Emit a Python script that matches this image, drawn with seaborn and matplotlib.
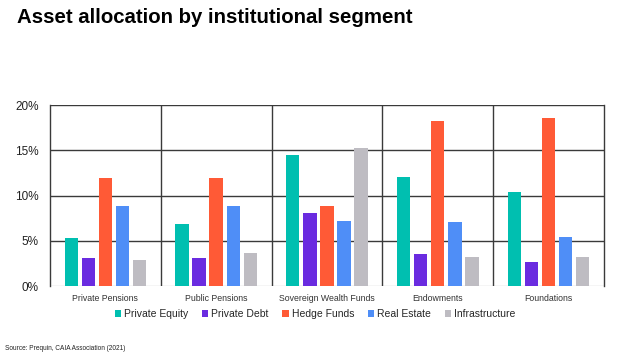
import pandas as pd
import matplotlib.pyplot as plt
import seaborn as sns

# --- data ---
segments = ['Private Pensions', 'Public Pensions', 'Sovereign Wealth Funds', 'Endowments', 'Foundations']
asset_classes = ['Private Equity', 'Private Debt', 'Hedge Funds', 'Real Estate', 'Infrastructure']

private_equity = [5.3, 6.9, 14.5, 12.1, 10.4]
private_debt = [3.1, 3.1, 8.1, 3.5, 2.7]
hedge_funds = [11.9, 11.9, 8.8, 18.2, 18.6]
real_estate = [8.8, 8.8, 7.2, 7.1, 5.4]
infrastructure = [2.9, 3.6, 15.3, 3.2, 3.2]

y_ticks = [0, 5, 10, 15, 20]
y_tick_labels = ['0%', '5%', '10%', '15%', '20%']

colors = ['#00BFB0', '#6A2BE0', '#FF5A36', '#4F8EF7', '#BEBCC2']

# long format for seaborn
series = [private_equity, private_debt, hedge_funds, real_estate, infrastructure]
rows = []
for asset, vals in zip(asset_classes, series):
    for seg, v in zip(segments, vals):
        rows.append({'Segment': seg, 'Asset': asset, 'Share': v})
df = pd.DataFrame(rows)

sns.set_style('white')
plt.rcParams['font.family'] = ['Liberation Sans', 'DejaVu Sans']

fig = plt.figure(figsize=(6.24, 3.54), dpi=100)
ax = fig.add_axes([0.080, 0.192, 0.888, 0.511])

sns.barplot(data=df, x='Segment', y='Share', hue='Asset', order=segments,
            hue_order=asset_classes, palette=colors, saturation=1, width=0.77, gap=0.22,
            linewidth=0, ax=ax, errorbar=None, legend=True, zorder=3)

ax.set_xlim(-0.5, len(segments) - 0.5)
ax.set_ylim(0, 20)
ax.set_yticks(y_ticks)
ax.set_yticklabels(y_tick_labels, fontsize=8.5, color='#222222')
ax.tick_params(axis='x', labelsize=6.3, colors='#333333', length=0, pad=6)
ax.tick_params(axis='y', length=0, pad=8)
ax.set_xlabel('')
ax.set_ylabel('')

# grid: dark lines for 5-20 %, light for baseline, vertical dividers
for t in y_ticks[1:]:
    ax.axhline(t, color='#3a3a3a', lw=1.0, zorder=1)
ax.axhline(0, color='#d0d0d0', lw=1.0, zorder=1)
for i in range(len(segments) - 1):
    ax.axvline(i + 0.5, color='#3a3a3a', lw=1.0, zorder=1)

for s in ['top', 'bottom']:
    ax.spines[s].set_visible(False)
for s in ['left', 'right']:
    ax.spines[s].set_color('#3a3a3a')
    ax.spines[s].set_linewidth(1.0)

ax.legend(loc='center', bbox_to_anchor=(0.505, 0.113), bbox_transform=fig.transFigure,
          ncol=5, frameon=False, fontsize=7.5, handlelength=0.6, handleheight=0.6,
          handletextpad=0.3, columnspacing=1.3)

fig.text(0.027, 0.95, 'Asset allocation by institutional segment', fontsize=14.7,
         fontweight='bold', ha='left', va='center', color='black')
fig.text(0.008, 0.015, 'Source: Prequin, CAIA Association (2021)', fontsize=4.7,
         ha='left', va='center', color='#222222')

fig.savefig('out.png', dpi=100)
